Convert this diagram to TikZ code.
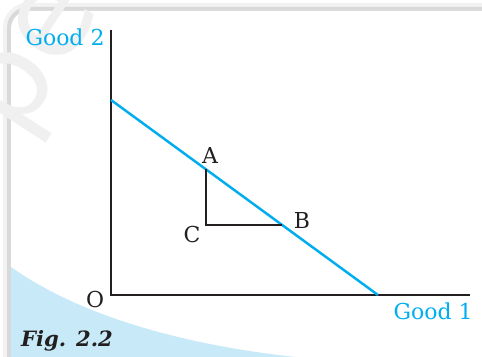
\documentclass[tikz,border=0pt]{standalone}
\usepackage{fontspec}
\setmainfont{DejaVu Serif}
\newfontfamily\markfont{DejaVu Sans}
\usepackage{tikz}
\usetikzlibrary{positioning}
\usepackage{xcolor}
\definecolor{goodcyan}{RGB}{0, 174, 239}
\definecolor{shadeblue}{RGB}{200, 234, 248}
\definecolor{axisblack}{RGB}{35, 31, 32}
\definecolor{markgray}{RGB}{240, 240, 240}

\begin{document}
\begin{tikzpicture}[x=0.02cm, y=-0.02cm,
    axis/.style={draw=axisblack, line width=1.4pt},
    budget/.style={draw=goodcyan, line width=1.4pt},
    lbl/.style={inner sep=0pt, text=axisblack, font=\fontsize{12.5}{14}\selectfont},
    goodlbl/.style={lbl, text=goodcyan}]
    \useasboundingbox (0,0) rectangle (482,357);
    \begin{scope}
        \clip (0,0) rectangle (482,357);
        % card with shaded edge
        \fill[gray!10, rounded corners=14] (3,3) rectangle (540,420);
        \fill[gray!30, rounded corners=12] (7,7) rectangle (540,420);
        \fill[white, rounded corners=10] (11,11) rectangle (540,420);
        \fill[shadeblue] (11,267) .. controls (80,316) and (185,346) .. (305,358) -- (11,358) -- cycle;
        \node[text=markgray, rotate=57, font=\markfont\fontsize{70}{70}\selectfont] (mark) at (42,62) {pe};
    \end{scope}

    \coordinate (O) at (111,295);
    \coordinate (ytop) at (111,30);
    \coordinate (xend) at (470,295);
    \coordinate (yint) at (111,100);
    \coordinate (xint) at (378,295);
    \coordinate (A) at (206,169.4);
    \coordinate (C) at (206,225);
    \coordinate (B) at (282,225);

    \draw[axis] (ytop) -- (O) -- (xend);
    \draw[budget] (yint) -- (xint);
    \draw[axisblack, line width=1.2pt] (A) -- (C) -- (B);

    \node[goodlbl] (good2) at (65,37) {Good 2};
    \node[goodlbl] (good1) at (433,311) {Good 1};
    \node[lbl] (origin) at (95,300) {O};
    \node[lbl] (ptA) at (210,155) {A};
    \node[lbl] (ptB) at (302,220) {B};
    \node[lbl] (ptC) at (192,235) {C};
    \node[lbl, font=\fontsize{12}{14}\selectfont\bfseries\itshape] (figlabel) at (67,341) {Fig. 2.2};
\end{tikzpicture}
\end{document}
